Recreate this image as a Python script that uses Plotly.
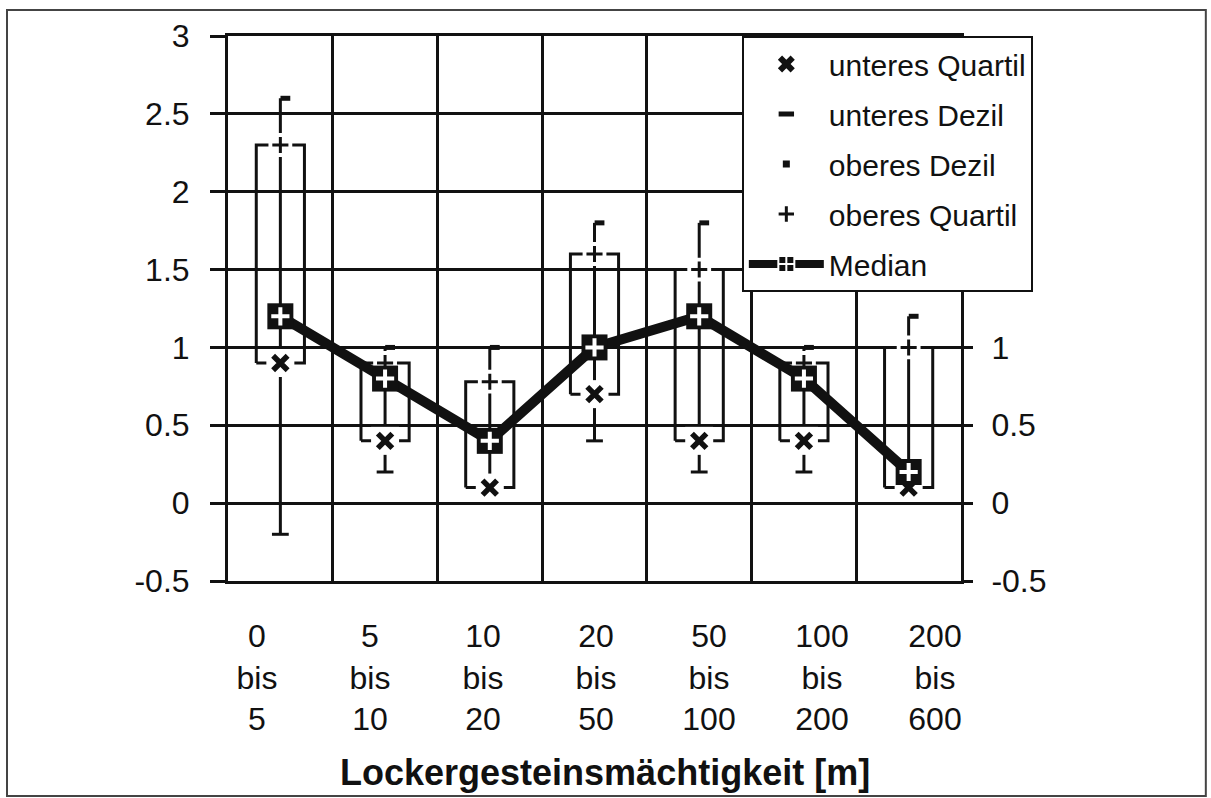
import plotly.graph_objects as go

# ---------------- data ----------------
categories = ["0<br>bis<br>5", "5<br>bis<br>10", "10<br>bis<br>20", "20<br>bis<br>50",
              "50<br>bis<br>100", "100<br>bis<br>200", "200<br>bis<br>600"]
lower_decile = [-0.2, 0.2, 0.1, 0.4, 0.2, 0.2, 0.1]
lower_quartile = [0.9, 0.4, 0.1, 0.7, 0.4, 0.4, 0.1]
median = [1.2, 0.8, 0.4, 1.0, 1.2, 0.8, 0.2]
upper_quartile = [2.3, 0.9, 0.78, 1.6, 1.5, 0.9, 1.0]
upper_decile = [2.6, 1.0, 1.0, 1.8, 1.8, 1.0, 1.2]

y_tick_vals = [-0.5, 0, 0.5, 1, 1.5, 2, 2.5, 3]
y_tick_text = ["-0.5", "0", "0.5", "1", "1.5", "2", "2.5", "3"]
y2_tick_vals = [-0.5, 0, 0.5, 1]          # right-hand labels not hidden by the legend
y2_tick_text = ["-0.5", "0", "0.5", "1"]
x_title = "Lockergesteinsmächtigkeit [m]"
legend_names = ["unteres Quartil", "unteres Dezil", "oberes Dezil", "oberes Quartil", "Median"]

# ---------------- styling constants ----------------
FONT = "Liberation Sans, Arial, sans-serif"
INK = "#111111"
BOX_HW = 0.23          # half width of boxes (category units)
DEC_OFF = 0.048        # offset of the upper decile tab
n = len(categories)
xi = list(range(n))

fig = go.Figure()


def mk(symbol, size, color, lw=0, lcolor=None):
    return dict(symbol=symbol, size=size, color=color,
                line=dict(color=lcolor or color, width=lw))


# boxes
bx, by = [], []
for i in xi:
    q1, q3 = lower_quartile[i], upper_quartile[i]
    bx += [i - BOX_HW, i + BOX_HW, i + BOX_HW, i - BOX_HW, i - BOX_HW, None]
    by += [q1, q1, q3, q3, q1, None]
fig.add_trace(go.Scatter(x=bx, y=by, mode="lines", line=dict(color=INK, width=3),
                         showlegend=False, hoverinfo="skip"))

# whiskers
wx, wy = [], []
for i in xi:
    wx += [i, i, None]
    wy += [lower_decile[i], upper_decile[i], None]
fig.add_trace(go.Scatter(x=wx, y=wy, mode="lines", line=dict(color=INK, width=3),
                         showlegend=False, hoverinfo="skip"))

# lower decile bars
fig.add_trace(go.Scatter(x=xi, y=lower_decile, mode="markers",
                         marker=mk("line-ew", 12, INK, 3),
                         showlegend=False, hoverinfo="skip"))
# upper decile tabs
fig.add_trace(go.Scatter(x=[i + DEC_OFF for i in xi], y=upper_decile, mode="markers",
                         marker=mk("line-ew", 7, INK, 5),
                         showlegend=False, hoverinfo="skip"))

# white halos
fig.add_trace(go.Scatter(x=xi, y=lower_quartile, mode="markers",
                         marker=mk("square", 28, "white", 0),
                         showlegend=False, hoverinfo="skip"))
fig.add_trace(go.Scatter(x=xi, y=upper_quartile, mode="markers",
                         marker=mk("cross-thin-open", 17, "white", 10),
                         showlegend=False, hoverinfo="skip"))

# quartile markers
fig.add_trace(go.Scatter(x=xi, y=lower_quartile, mode="markers",
                         marker=mk("x-thin-open", 14.5, INK, 5.5),
                         showlegend=False, hoverinfo="skip"))
fig.add_trace(go.Scatter(x=xi, y=upper_quartile, mode="markers",
                         marker=mk("cross-thin-open", 11.5, INK, 3),
                         showlegend=False, hoverinfo="skip"))

# median line + squares
fig.add_trace(go.Scatter(x=xi, y=median, mode="lines+markers", line=dict(color=INK, width=10),
                         marker=mk("square", 26, INK, 0),
                         showlegend=False, hoverinfo="skip"))
fig.add_trace(go.Scatter(x=xi, y=median, mode="markers",
                         marker=mk("cross-thin-open", 13, "white", 4),
                         showlegend=False, hoverinfo="skip"))

# legend-only entries
leg_styles = [
    dict(mode="markers", marker=mk("x", 15, INK, 0)),
    dict(mode="markers", marker=mk("line-ew", 11, INK, 5)),
    dict(mode="markers", marker=mk("square", 7, INK, 0)),
    dict(mode="markers", marker=mk("cross-thin-open", 11, INK, 3)),
    dict(mode="lines+markers", line=dict(color=INK, width=8),
         marker=mk("square-cross", 16, INK, 2, "white")),
]
for k, (name, st) in enumerate(zip(legend_names, leg_styles)):
    fig.add_trace(go.Scatter(x=[None], y=[None], name=name, legendgroup=f"g{k}",
                             showlegend=True, **st))

# invisible trace so that the secondary axes (labels) are drawn
fig.add_trace(go.Scatter(x=[None], y=[None], xaxis="x2", yaxis="y2", mode="markers",
                         showlegend=False, hoverinfo="skip"))

fig.update_layout(
    width=1211, height=798,
    margin=dict(l=228, r=250, t=36, b=217),
    paper_bgcolor="white", plot_bgcolor="white",
    font=dict(family=FONT, color=INK, size=30),
    showlegend=True,
    legend=dict(x=0.701, y=1.0, xanchor="left", yanchor="top",
                bgcolor="white", bordercolor=INK, borderwidth=2,
                font=dict(size=30, family=FONT, color=INK),
                itemwidth=75, traceorder="grouped", tracegroupgap=8),
    xaxis=dict(range=[-0.5, n - 0.5], tickvals=[i - 0.5 for i in range(n + 1)],
               showticklabels=False, ticks="", showgrid=True, gridcolor=INK, gridwidth=3,
               zeroline=False, showline=True, linecolor=INK, linewidth=3, mirror=True),
    xaxis2=dict(overlaying="x", anchor="y", side="bottom",
                range=[-0.2566, 6.23], tickvals=xi, ticktext=categories,
                showgrid=False, zeroline=False, showline=False, ticks="",
                tickfont=dict(size=32, family=FONT, color=INK), ticklabelstandoff=33),
    yaxis=dict(range=[-0.5, 3], tickvals=y_tick_vals, ticktext=y_tick_text,
               showgrid=True, gridcolor=INK, gridwidth=3, zeroline=False,
               showline=True, linecolor=INK, linewidth=3, mirror=True,
               ticks="outside", ticklen=15, tickwidth=3, tickcolor=INK,
               tickfont=dict(size=32, family=FONT, color=INK), ticklabelstandoff=14),
    yaxis2=dict(overlaying="y", anchor="x", side="right", range=[-0.5, 3],
                tickvals=y2_tick_vals, ticktext=y2_tick_text, showgrid=False, zeroline=False,
                ticks="outside", ticklen=11, tickwidth=3, tickcolor=INK,
                tickfont=dict(size=32, family=FONT, color=INK), ticklabelstandoff=12),
    annotations=[dict(text=f"<b>{x_title}</b>", xref="paper", yref="paper",
                      x=0.514, y=-0.352, xanchor="center", yanchor="middle",
                      showarrow=False, font=dict(size=36, family=FONT, color=INK))],
    shapes=[dict(type="rect", xref="paper", yref="paper", x0=-0.3015, x1=1.334,
                 y0=-0.3945, y1=1.0477, line=dict(color="#444444", width=2), layer="below")],
)

fig.write_html("out.html", config={"displayModeBar": False},
               post_script="document.body.style.margin='0px';")
